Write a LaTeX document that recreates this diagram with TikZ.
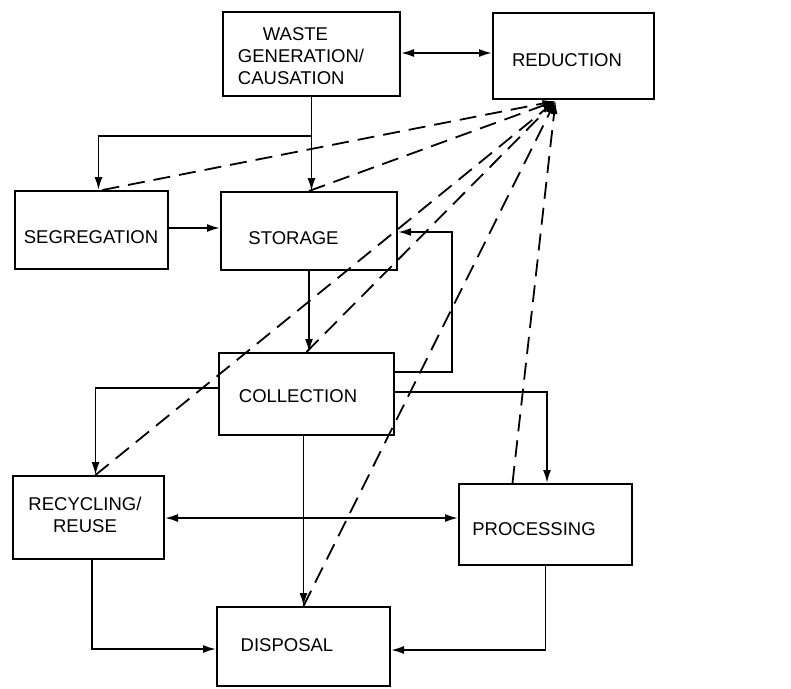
\documentclass[tikz,border=0pt]{standalone}
\usepackage{fontspec}
\setmainfont{Liberation Sans}
\usetikzlibrary{arrows.meta}
\begin{document}
\begin{tikzpicture}[x=1pt,y=-1pt,
  box/.style={draw,line width=2pt,inner sep=0pt,rectangle},
  lbl/.style={font=\fontsize{18.5}{22}\selectfont,inner sep=0pt,align=center},
  conn/.style={line width=1.8pt},
  tip/.style={},
  arr/.style={conn,-{Latex[length=13pt,width=8pt]}},
  dbl/.style={conn,{Latex[length=13pt,width=8pt]}-{Latex[length=13pt,width=8pt]}},
  dsh/.style={line width=1.8pt,dash pattern=on 17pt off 9pt,-{Latex[length=13pt,width=7pt]}}]
\useasboundingbox (0,0) rectangle (791,688);
% boxes
\node[box,minimum width=177pt,minimum height=84pt] (wg) at (311.5,54) {};
\node[box,minimum width=161pt,minimum height=86pt] (red) at (573.5,56) {};
\node[box,minimum width=153pt,minimum height=78pt] (seg) at (91.5,230) {};
\node[box,minimum width=176pt,minimum height=78pt] (sto) at (309,231) {};
\node[box,minimum width=175pt,minimum height=82pt] (col) at (306.5,394) {};
\node[box,minimum width=151pt,minimum height=83pt] (rec) at (88.5,517.5) {};
\node[box,minimum width=173pt,minimum height=81pt] (pro) at (545.5,524.5) {};
\node[box,minimum width=173pt,minimum height=79pt] (dis) at (303.5,646.5) {};
% texts
\node[lbl,align=left] (wgt) at (301,56) {\hspace*{25pt}WASTE\\GENERATION/\\CAUSATION};
\node[lbl] (redt) at (567,60) {REDUCTION};
\node[lbl] (segt) at (91,237) {SEGREGATION};
\node[lbl] (stot) at (293.5,238) {STORAGE};
\node[lbl] (colt) at (298,396) {COLLECTION};
\node[lbl] (rect) at (85,515) {RECYCLING/\\REUSE};
\node[lbl] (prot) at (534,529) {PROCESSING};
\node[lbl] (dist) at (287,645) {DISPOSAL};
% solid connectors
\draw[arr] (wg.south) -- (wg.south |- sto.north);
\draw[arr] (wg.south |- 0,136) -| ([xshift=7pt]seg.north);
\draw[dbl] (wg.east |- 0,53) -- (red.west |- 0,53);
\draw[arr] (seg.east |- 0,228) -- (sto.west |- 0,228);
\draw[arr] (sto.south) -- (sto.south |- col.north);
\draw[arr] (col.east |- 0,372) -- (452,372) -- (452,232) -- (sto.east |- 0,232);
\draw[arr] (col.east |- 0,392) -| ([xshift=1.5pt]pro.north);
\draw[arr] (col.west |- 0,388) -| ([xshift=7pt]rec.north);
\draw[arr] (dis.north |- col.south) -- (dis.north);
\draw[dbl] (rec.east |- 0,518) -- (pro.west |- 0,518);
\draw[arr] ([xshift=3.5pt]rec.south) |- (dis.west |- 0,649);
\draw[arr] (pro.south) |- (dis.east |- 0,650);
% dashed connectors to reduction
\coordinate (rt) at ([xshift=-18pt,yshift=-1pt]red.south);
\draw[dsh] ([xshift=11pt]seg.north) -- (rt);
\draw[dsh] (sto.north) -- (rt);
\draw[dsh] ([xshift=7pt]rec.north) -- (rt);
\draw[dsh] (col.north) -- (rt);
\draw[dsh] (dis.north) -- (rt);
\draw[dsh] ([xshift=-33pt]pro.north) -- (rt);
\end{tikzpicture}
\end{document}
